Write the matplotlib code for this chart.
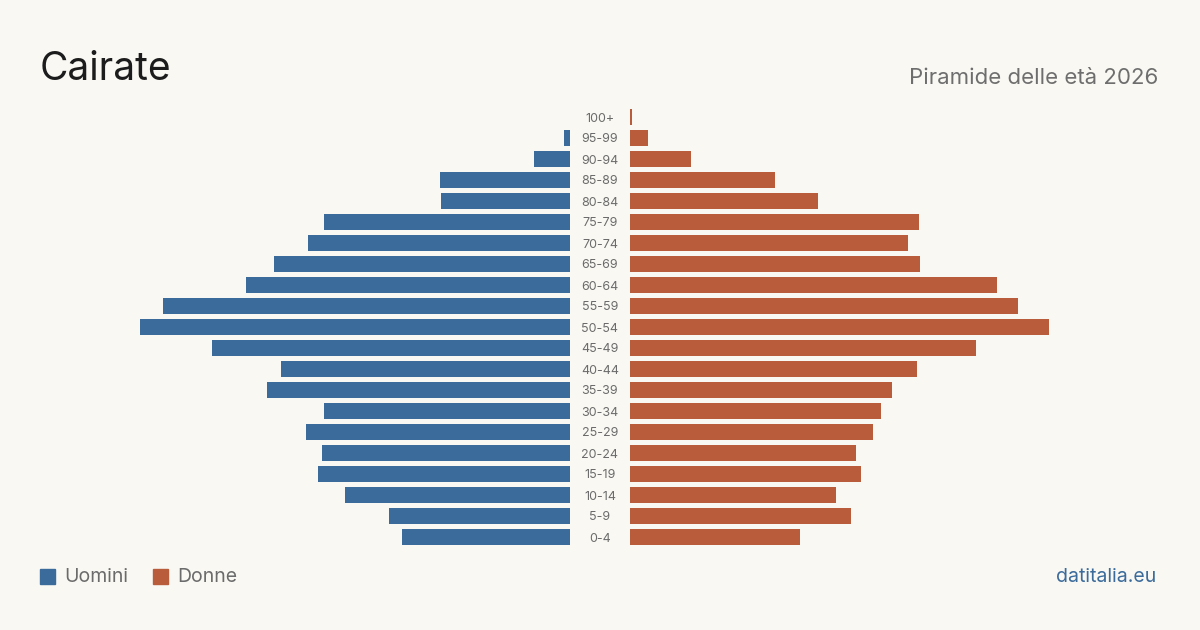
import matplotlib.pyplot as plt
from matplotlib.patches import Rectangle
from matplotlib import transforms

plt.rcParams["font.family"] = ["Inter", "DejaVu Sans"]

age_groups = ["0-4", "5-9", "10-14", "15-19", "20-24", "25-29", "30-34",
              "35-39", "40-44", "45-49", "50-54", "55-59", "60-64", "65-69",
              "70-74", "75-79", "80-84", "85-89", "90-94", "95-99", "100+"]
men = [168, 181, 225, 252, 248, 264, 246, 303, 289, 358, 430,
       407, 324, 296, 262, 246, 129, 130, 36, 6, 0]
women = [170, 221, 206, 231, 226, 243, 251, 262, 287, 346, 419,
         388, 367, 290, 278, 289, 188, 145, 61, 18, 2]

bg = "#f9f8f3"
blue = "#3b6b9b"
orange = "#b95c3c"

fig = plt.figure(figsize=(12, 6.3), dpi=100, facecolor=bg)

bottom, height = 82.5 / 630, 0.7
ax_l = fig.add_axes([40 / 1200, bottom, 530 / 1200, height])
ax_r = fig.add_axes([630 / 1200, bottom, 530 / 1200, height])

y = range(len(age_groups))
ax_l.barh(y, men, height=0.8, color=blue)
ax_r.barh(y, women, height=0.8, color=orange)

for ax in (ax_l, ax_r):
    ax.set_xlim(0, 530)
    ax.set_ylim(-0.5, len(age_groups) - 0.5)
    ax.axis("off")
ax_l.invert_xaxis()

trans = transforms.blended_transform_factory(fig.transFigure, ax_r.transData)
trans = trans + transforms.ScaledTranslation(0, -1.5 / 100, fig.dpi_scale_trans)
for i, lab in enumerate(age_groups):
    fig.text(0.5, i, lab, transform=trans, ha="center", va="center",
             fontsize=9, color="#6b6b6b")

fig.text(40 / 1200, 1 - 69 / 630, "Cairate", fontsize=28, color="#1c1c1c",
         ha="left", va="center")
fig.text(1158 / 1200, 1 - 78 / 630, "Piramide delle età 2026", fontsize=16,
         color="#6e6e6e", ha="right", va="center")

# legend
for x0, col, lab in [(40, blue, "Uomini"), (153, orange, "Donne")]:
    fig.patches.append(Rectangle((x0 / 1200, 1 - 584 / 630), 15 / 1200, 15 / 630,
                                 transform=fig.transFigure, color=col))
    fig.text((x0 + 24) / 1200, 1 - 577 / 630, lab, fontsize=14,
             color="#6b6b6b", ha="left", va="center")

fig.text(1156 / 1200, 1 - 577 / 630, "datitalia.eu", fontsize=14,
         color=blue, ha="right", va="center")

fig.savefig("out.png", dpi=100, facecolor=bg)
